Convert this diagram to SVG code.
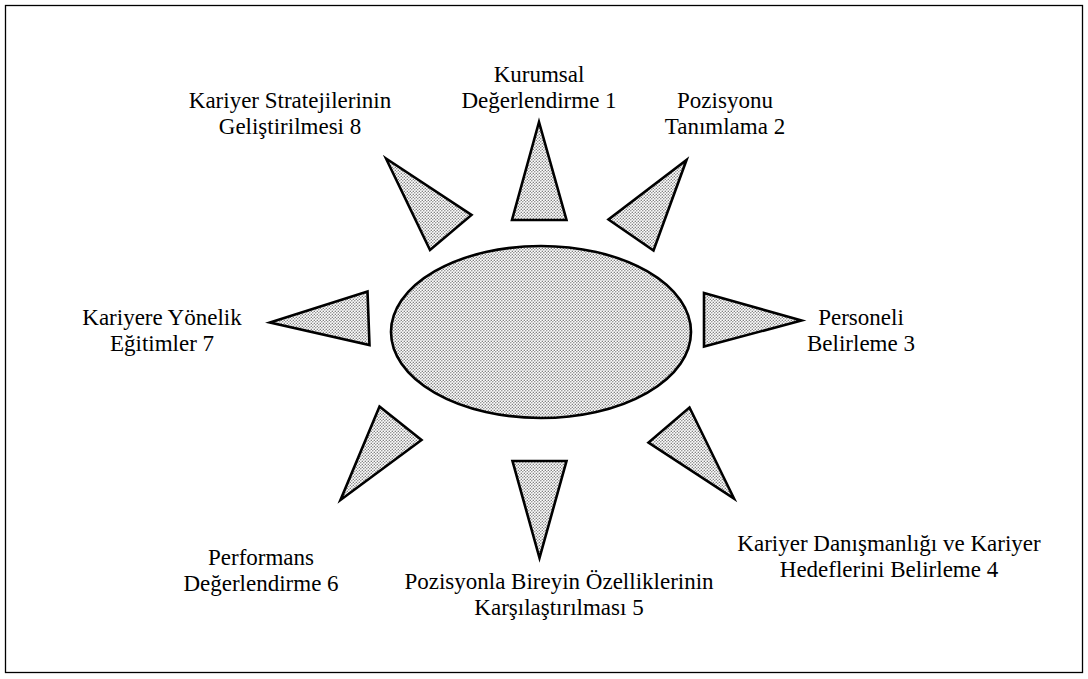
<svg xmlns="http://www.w3.org/2000/svg" width="1088" height="679" viewBox="0 0 1088 679">
<style>
.lbl{font-family:"Liberation Serif","Times New Roman",serif;font-size:23px;fill:#000;text-anchor:middle}
.sh{fill:url(#dots);stroke:#000;stroke-width:2.6;stroke-linejoin:miter}
</style>
<defs>
<pattern id="dots" width="3" height="3" patternUnits="userSpaceOnUse">
<rect width="3" height="3" fill="#ffffff"/>
<circle cx="0.8" cy="0.8" r="0.75" fill="#808080"/>
<circle cx="2.3" cy="2.3" r="0.75" fill="#808080"/>
</pattern>
</defs>
<rect x="5.5" y="5.5" width="1077" height="667" fill="#fff" stroke="#000" stroke-width="1.3"/>
<g id="center"><ellipse class="sh" cx="541" cy="332" rx="150" ry="86"/></g>
<g id="node1">
<polygon class="sh" points="539,122 566.5,220 512,220"/>
<text class="lbl" x="539" y="82">Kurumsal</text>
<text class="lbl" x="539" y="108">Değerlendirme 1</text>
</g>
<g id="node2">
<polygon class="sh" points="686.5,160 653.5,250.5 608.5,219.5"/>
<text class="lbl" x="725" y="108">Pozisyonu</text>
<text class="lbl" x="725" y="134">Tanımlama 2</text>
</g>
<g id="node3">
<polygon class="sh" points="704,293 801.5,320.5 704,346.5"/>
<text class="lbl" x="861" y="325">Personeli</text>
<text class="lbl" x="861" y="351">Belirleme 3</text>
</g>
<g id="node4">
<polygon class="sh" points="689.5,407.5 734,498.5 648.5,442.5"/>
<text class="lbl" x="889" y="551">Kariyer Danışmanlığı ve Kariyer</text>
<text class="lbl" x="889" y="577">Hedeflerini Belirleme 4</text>
</g>
<g id="node5">
<polygon class="sh" points="512.5,461 566.5,461 539.5,558"/>
<text class="lbl" x="559" y="589">Pozisyonla Bireyin Özelliklerinin</text>
<text class="lbl" x="559" y="615">Karşılaştırılması 5</text>
</g>
<g id="node6">
<polygon class="sh" points="379.5,406.5 421.5,440 340.5,500"/>
<text class="lbl" x="261" y="565">Performans</text>
<text class="lbl" x="261" y="591">Değerlendirme 6</text>
</g>
<g id="node7">
<polygon class="sh" points="270,322.5 367.5,291.5 369.5,345"/>
<text class="lbl" x="162" y="325">Kariyere Yönelik</text>
<text class="lbl" x="162" y="351">Eğitimler 7</text>
</g>
<g id="node8">
<polygon class="sh" points="386,158.5 471.5,215 430,250"/>
<text class="lbl" x="290" y="108">Kariyer Stratejilerinin</text>
<text class="lbl" x="290" y="134">Geliştirilmesi 8</text>
</g>
<g id="connectors"></g>
</svg>
